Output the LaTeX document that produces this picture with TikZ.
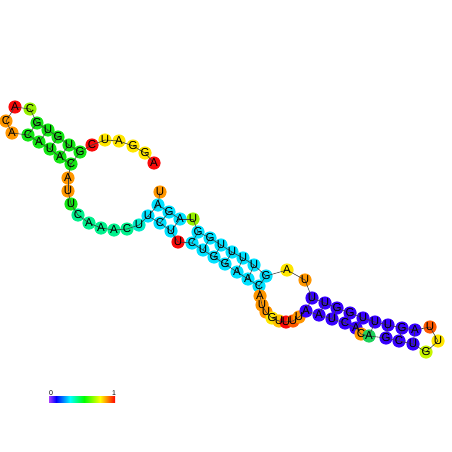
\documentclass[tikz,border=0pt]{standalone}
\usepackage{fontspec}
\setmainfont{Liberation Sans}
\definecolor{cR}{RGB}{250,10,10}
\definecolor{cO}{RGB}{255,150,0}
\definecolor{cOR}{RGB}{255,90,0}
\definecolor{cY}{RGB}{255,230,0}
\definecolor{cYO}{RGB}{255,195,0}
\definecolor{cYG}{RGB}{150,240,0}
\definecolor{cLG}{RGB}{200,245,0}
\definecolor{cG}{RGB}{20,230,20}
\definecolor{cSG}{RGB}{0,240,140}
\definecolor{cTq}{RGB}{0,235,200}
\definecolor{cC}{RGB}{0,225,255}
\definecolor{cB}{RGB}{55,0,255}
\definecolor{cGB}{RGB}{30,210,90}
\definecolor{cP}{RGB}{165,60,255}
\begin{document}
\begin{tikzpicture}[x=1pt,y=-1pt,
  nt/.style={circle,inner sep=0pt,minimum size=13.2pt},
  bb/.style={draw=black!75,line width=0.6pt},
  lab/.style={inner sep=0pt,font=\fontsize{11.5}{11.5}\selectfont},
  tick/.style={inner sep=0pt,font=\fontsize{7}{7}\selectfont}]
\useasboundingbox (0,0) rectangle (452,452);
% nucleotides: index/x/y/colour
\foreach \n/\x/\y/\c in {
1/154/163/cR, 2/145/153/cY, 3/133/146/cY, 4/119/141/cY, 5/105/140/cY, 6/92/145/cR,
7/80/152/cG, 8/69/145/cG, 9/58/137/cG, 10/48/130/cG, 11/37/123/cG,
12/30/109/cYG, 13/15/107/cR, 14/6/121/cO, 15/12/133/cO,
16/28/135/cG, 17/39/142/cG, 18/50/149/cG, 19/60/157/cG, 20/71/164/cG,
21/68/178/cO, 22/68/191/cO, 23/71/204/cG, 24/78/215/cSG, 25/89/223/cSG,
26/101/228/cSG, 27/114/230/cSG, 28/127/229/cSG, 29/139/225/cTq,
30/148/216/cC, 31/160/223/cC, 32/171/231/cC, 33/178/242/cR,
34/192/243/cC, 35/203/250/cC, 36/214/257/cC, 37/225/264/cC, 38/237/272/cC, 39/248/279/cC, 40/259/286/cC,
41/260/296/cO, 42/262/305/cO, 43/266/312/cO, 44/272/318/cY, 45/279/321/cYO, 46/286/322/cR, 47/293/321/cOR, 48/299/317/cO,
49/306/311/cB, 50/319/315/cB, 51/332/319/cB, 52/345/323/cB, 53/356/328/cB, 54/361/334/cO, 55/369/336/cGB,
56/386/338/cB, 57/399/341/cB, 58/413/344/cB,
59/426/352/cLG, 60/438/341/cY, 61/430/327/cOR,
62/415/330/cB, 63/402/328/cB, 64/388/325/cB, 65/375/322/cB, 66/363/318/cB, 67/350/313/cB, 68/337/308/cB, 69/325/303/cB, 70/312/298/cB,
71/305/280/cO, 72/287/270/cY,
73/266/276/cC, 74/254/265/cC, 75/243/258/cC, 76/232/252/cC, 77/221/245/cC, 78/210/238/cC, 79/198/232/cC,
80/193/219/cYG, 81/180/219/cC, 82/169/212/cC, 83/158/205/cC, 84/160/192/cO}
  {\node[nt,fill=\c] (n\n) at (\x,\y) {};}
% backbone
\foreach \i [evaluate=\i as \j using int(\i+1)] in {1,...,83}
  {\draw[bb] (n\i.center) -- (n\j.center);}
% base pairs
\foreach \a/\b in {7/20,8/19,9/18,10/17,11/16,30/83,31/82,32/81,
  34/79,35/78,36/77,37/76,38/75,39/74,40/73,
  49/70,50/69,51/68,52/67,53/66,55/65,56/64,57/63,58/62}
  {\draw[bb] (n\a.center) -- (n\b.center);}
% letters
\foreach \n/\l in {1/A,2/G,3/G,4/A,5/U,6/C,7/G,8/U,9/G,10/U,11/G,12/C,13/A,14/C,15/A,
16/C,17/A,18/U,19/A,20/C,21/A,22/U,23/U,24/C,25/A,26/A,27/A,28/C,29/U,30/U,31/C,32/U,33/U,
34/C,35/U,36/G,37/G,38/A,39/A,40/C,41/A,42/U,43/U,44/G,45/U,46/U,47/U,48/U,
49/A,50/A,51/U,52/C,53/A,54/C,55/A,56/G,57/C,58/U,59/G,60/U,61/U,
62/A,63/G,64/U,65/U,66/U,67/G,68/G,69/U,70/U,71/U,72/A,
73/G,74/U,75/U,76/U,77/U,78/G,79/G,80/U,81/A,82/G,83/A,84/U}
  {\node[lab] (l\n) at (n\n) {\l};}
% colour bar
\shade[left color=cP,right color=blue] (49,396.5) rectangle (56,402.5);
\shade[left color=blue,right color=cyan] (56,396.5) rectangle (70,402.5);
\shade[left color=cyan,right color=green] (70,396.5) rectangle (84,402.5);
\shade[left color=green,right color=yellow] (84,396.5) rectangle (100,402.5);
\shade[left color=yellow,right color=red] (100,396.5) rectangle (115,402.5);
\node[tick,anchor=base] (t0) at (51,395) {0};
\node[tick,anchor=base] (t1) at (114,395) {1};
\end{tikzpicture}
\end{document}
